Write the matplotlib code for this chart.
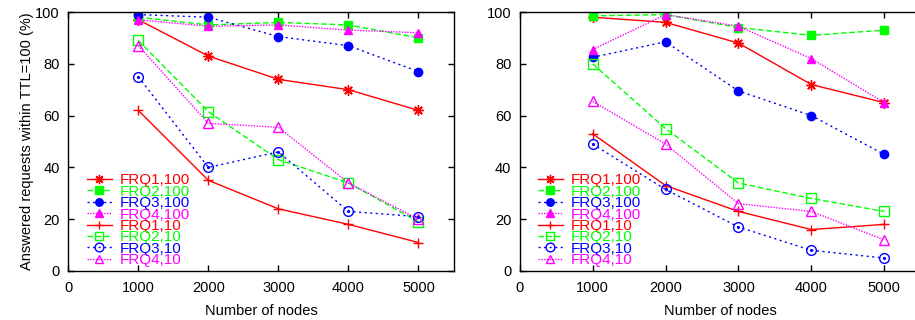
import matplotlib
matplotlib.use("Agg")
import matplotlib.pyplot as plt

plt.rcParams['font.family'] = ['Liberation Sans', 'DejaVu Sans']

nodes = [1000, 2000, 3000, 4000, 5000]
labels = ["FRQ1,100", "FRQ2,100", "FRQ3,100", "FRQ4,100",
          "FRQ1,10", "FRQ2,10", "FRQ3,10", "FRQ4,10"]

left_frq1_100 = [97, 83, 74, 70, 62]
left_frq2_100 = [98, 95, 96, 95, 90]
left_frq3_100 = [99, 98, 90.5, 87, 77]
left_frq4_100 = [97, 94.5, 95, 93, 92]
left_frq1_10 = [62, 35, 24, 18, 11]
left_frq2_10 = [89, 61.5, 43, 34, 19]
left_frq3_10 = [75, 40, 46, 23, 21]
left_frq4_10 = [87, 57, 55.5, 34, 20]

right_frq1_100 = [98, 96, 88, 72, 65]
right_frq2_100 = [98.5, 99, 94, 91, 93]
right_frq3_100 = [82.5, 88.5, 69.5, 60, 45]
right_frq4_100 = [85.5, 99, 94.5, 82, 65]
right_frq1_10 = [53, 33, 23, 16, 18]
right_frq2_10 = [80, 55, 34, 28, 23]
right_frq3_10 = [49, 31.5, 17, 8, 5]
right_frq4_10 = [65.5, 49, 26, 23, 12]

left_series = [left_frq1_100, left_frq2_100, left_frq3_100, left_frq4_100,
               left_frq1_10, left_frq2_10, left_frq3_10, left_frq4_10]
right_series = [right_frq1_100, right_frq2_100, right_frq3_100, right_frq4_100,
                right_frq1_10, right_frq2_10, right_frq3_10, right_frq4_10]

xticks = [0, 1000, 2000, 3000, 4000, 5000]
yticks = [0, 20, 40, 60, 80, 100]

RED, GREEN, BLUE, MAG = '#ff0000', '#00ff00', '#0000ff', '#ff00ff'
styles = [
    dict(color=RED, ls='-', marker=(8, 2, 0), mfc=RED, ms=7.5),
    dict(color=GREEN, ls=(0, (4, 2)), marker='s', mfc=GREEN, ms=6),
    dict(color=BLUE, ls=(0, (1.5, 2.5)), marker='o', mfc=BLUE, ms=6),
    dict(color=MAG, ls=(0, (1, 1)), marker='^', mfc=MAG, ms=6),
    dict(color=RED, ls='-', marker='+', mfc=RED, ms=7),
    dict(color=GREEN, ls=(0, (4, 2)), marker='s', mfc='none', ms=7),
    dict(color=BLUE, ls=(0, (1.5, 2.5)), marker='o', mfc='none', ms=7),
    dict(color=MAG, ls=(0, (1, 1)), marker='^', mfc='none', ms=7),
]

W, H = 915, 320
FS = 10.5
LFS = 11
fig = plt.figure(figsize=(W / 100, H / 100), dpi=100)


def draw(ax, series, show_ylabel, legend_x, right_ticks):
    handles = []
    for vals, st, lab in zip(series, styles, labels):
        ln, = ax.plot(nodes, vals, color=st['color'], ls=st['ls'], lw=1.0,
                      marker=st['marker'], mfc=st['mfc'], mec=st['color'],
                      ms=st['ms'], mew=1.0, label=lab)
        handles.append(ln)
    # center dot for open circles
    ax.plot(nodes, series[6], ls='none', marker='.', color=BLUE, ms=2.5)
    ax.set_xlim(0, 5500)
    ax.set_ylim(0, 100)
    ax.set_xticks(xticks)
    ax.set_yticks(yticks)
    ax.tick_params(direction='in', top=True, right=right_ticks, length=4.5, width=1,
                   labelsize=FS)
    ax.tick_params(axis='x', pad=7.5)
    ax.tick_params(axis='y', pad=6)
    ax.set_xlabel("Number of nodes", fontsize=FS, labelpad=6)
    if show_ylabel:
        ax.set_ylabel("Answered requests within TTL=100 (%)", fontsize=FS, labelpad=1)
    for sp in ax.spines.values():
        sp.set_linewidth(1.0)
    leg = ax.legend(handles=handles, loc='lower left', bbox_to_anchor=(legend_x, 0.015),
                    frameon=False, fontsize=LFS, labelspacing=-0.17,
                    handlelength=1.6, handletextpad=0.55, borderaxespad=0.0,
                    borderpad=0.0, markerscale=0.9)
    for t, st in zip(leg.get_texts(), styles):
        t.set_color(st['color'])
    return ax


axL = fig.add_axes([68.3 / W, 1 - 271 / H, (453.5 - 68.3) / W, (271 - 12) / H])
draw(axL, left_series, True, 0.049, True)
axR = fig.add_axes([519.7 / W, 1 - 271 / H, (920.7 - 519.7) / W, (271 - 12) / H])
draw(axR, right_series, False, 0.046, False)

fig.savefig("out.png", dpi=100)
